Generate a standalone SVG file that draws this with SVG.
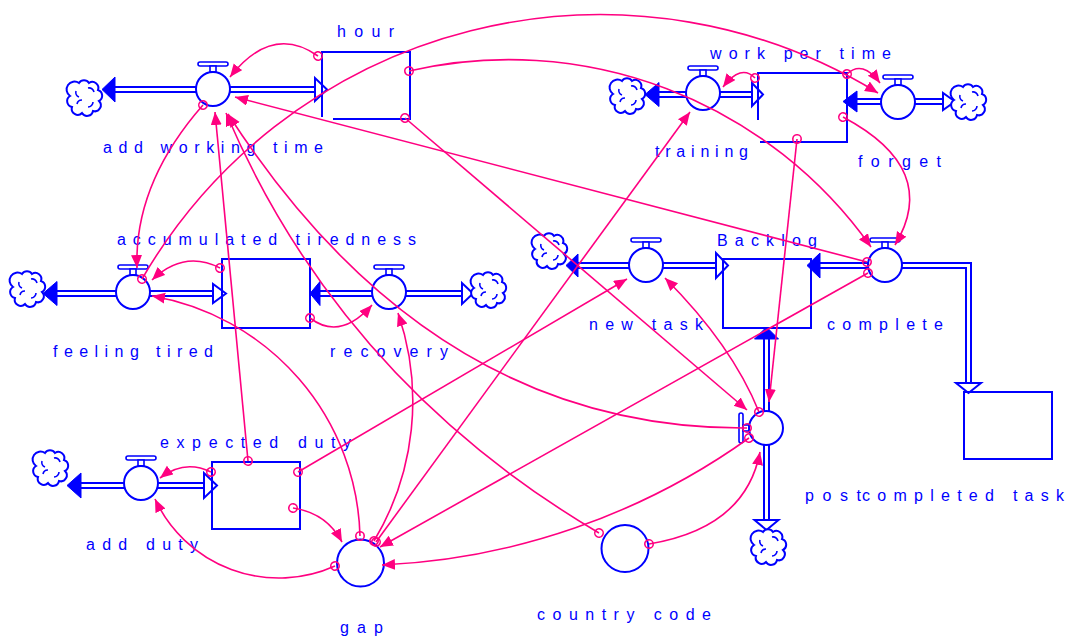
<svg xmlns="http://www.w3.org/2000/svg" xmlns:xlink="http://www.w3.org/1999/xlink" width="1071" height="640" viewBox="0 0 1071 640">
<style>
  .stock{fill:none;stroke:#0000FF;stroke-width:2}
  .lbl{font-family:"Liberation Sans",Arial,sans-serif;font-size:16px;fill:#0000FF}
  .pipeO{fill:none;stroke:#0000FF;stroke-width:7;stroke-linejoin:miter}
  .pipeI{fill:none;stroke:#FFFFFF;stroke-width:3;stroke-linejoin:miter}
  .fa{fill:#0000FF;stroke:#0000FF;stroke-width:1}
  .ha{fill:#FFFFFF;stroke:#0000FF;stroke-width:2}
  .aux{fill:#FFFFFF;stroke:#0000FF;stroke-width:2}
  .link{fill:none;stroke:#FF0080;stroke-width:1.6;marker-start:url(#orig);marker-end:url(#head)}
</style>
<defs>
  <marker id="head" markerUnits="userSpaceOnUse" markerWidth="14" markerHeight="12" refX="13" refY="5.5" orient="auto">
    <path d="M0,0 L13,5.5 L0,11 Z" fill="#FF0080"/>
  </marker>
  <marker id="orig" markerUnits="userSpaceOnUse" markerWidth="12" markerHeight="12" refX="6" refY="6" orient="auto">
    <circle cx="6" cy="6" r="4.2" fill="none" stroke="#FF0080" stroke-width="1.6"/>
  </marker>
  <g id="valve">
    <rect x="-15" y="-27" width="30" height="4" rx="2" fill="#FFFFFF" stroke="#0000FF" stroke-width="1.6"/>
    <rect x="-3" y="-23" width="6" height="6" fill="#FFFFFF" stroke="#0000FF" stroke-width="1.6"/>
    <circle r="17" fill="#FFFFFF" stroke="#0000FF" stroke-width="2"/>
  </g>
  <g id="cloud">
    <path d="M-6,-15 A6,6 0 0 1 4,-15 A6,6 0 0 1 13,-8 A6,6 0 0 1 14,3 A6,6 0 0 1 8,13 A6,6 0 0 1 -3,15 A6,6 0 0 1 -13,9 A6,6 0 0 1 -15,-2 A6,6 0 0 1 -6,-15 Z" fill="#FFFFFF" stroke="#0000FF" stroke-width="2"/>
    <path d="M-9,-7 A5,5 0 0 0 -6,-1 M3,-10 A5,5 0 0 1 9,-6 M8,4 A5,5 0 0 1 3,9 M-8,6 A5,5 0 0 1 -3,2" fill="none" stroke="#0000FF" stroke-width="1.6"/>
  </g>
</defs>
<rect width="1071" height="640" fill="#FFFFFF"/>

<!-- flow pipes -->
<g id="pipes">
  <path class="pipeO" d="M115,89.5 H315 M659,94.5 H752 M857,101.5 H943 M57,293.5 H213 M320,293.5 H462 M578,265.5 H716 M820,265.5 H968.5 V383 M766.5,339 V520 M81,485.5 H204"/>
  <path class="pipeI" d="M113,89.5 H317 M657,94.5 H754 M855,101.5 H945 M55,293.5 H215 M318,293.5 H464 M576,265.5 H718 M818,265.5 H968.5 V385 M766.5,337 V522 M79,485.5 H206"/>
  <polygon class="fa" points="102,89.5 115,77 115,102"/>
  <polygon class="fa" points="645,94.5 659,82.5 659,106.5"/>
  <polygon class="fa" points="843,101.5 857,91 857,112"/>
  <polygon class="fa" points="43,293.5 57,281.5 57,305.5"/>
  <polygon class="fa" points="310,293.5 320,281.5 320,305.5"/>
  <polygon class="fa" points="566,265.5 578,254 578,277"/>
  <polygon class="fa" points="807,265.5 820,253 820,278"/>
  <polygon class="fa" points="766.5,327 754.5,339 778.5,339"/>
  <polygon class="fa" points="67,485.5 81,473 81,498"/>
  <polygon class="ha" points="327,89.5 315,78 315,101"/>
  <polygon class="ha" points="763,94.5 752,83 752,106"/>
  <polygon class="ha" points="955,101.5 943,93 943,110"/>
  <polygon class="ha" points="226,293.5 213,284 213,303"/>
  <polygon class="ha" points="473,293.5 462,283 462,304"/>
  <polygon class="ha" points="728,265.5 716,253 716,278"/>
  <polygon class="ha" points="968.5,393 956,383 981,383"/>
  <polygon class="ha" points="766.5,530 754.5,520 778.5,520"/>
  <polygon class="ha" points="217,485.5 204,473 204,498"/>
</g>

<!-- sources and sinks -->
<g id="clouds">
  <use xlink:href="#cloud" href="#cloud" x="85" y="98"/>
  <use xlink:href="#cloud" href="#cloud" x="628" y="96"/>
  <use xlink:href="#cloud" href="#cloud" x="969" y="102"/>
  <use xlink:href="#cloud" href="#cloud" x="28" y="289"/>
  <use xlink:href="#cloud" href="#cloud" x="489" y="290"/>
  <use xlink:href="#cloud" href="#cloud" x="550" y="251"/>
  <use xlink:href="#cloud" href="#cloud" x="769" y="547"/>
  <use xlink:href="#cloud" href="#cloud" x="51" y="468"/>
</g>

<!-- stocks -->
<g id="hour">
  <path class="stock" d="M333,119 H410 V52 H322 V117"/>
  <text class="lbl" x="337" y="37" textLength="57" lengthAdjust="spacing">hour</text>
</g>
<g id="work-per-time">
  <path class="stock" d="M760,142 H847 V73 H758 V120"/>
  <text class="lbl" x="710" y="59" textLength="181" lengthAdjust="spacing">work per time</text>
</g>
<g id="accumulated-tiredness">
  <rect class="stock" x="222" y="259" width="88" height="69"/>
  <text class="lbl" x="117" y="245" textLength="299" lengthAdjust="spacing">accumulated tiredness</text>
</g>
<g id="backlog">
  <rect class="stock" x="723" y="259" width="88" height="69"/>
  <text class="lbl" x="717" y="246" textLength="100" lengthAdjust="spacing">Backlog</text>
</g>
<g id="expected-duty">
  <rect class="stock" x="212" y="462" width="88" height="67"/>
  <text class="lbl" x="160" y="448" textLength="191" lengthAdjust="spacing">expected duty</text>
</g>
<g id="completed-task">
  <rect class="stock" x="964" y="392" width="88" height="67"/>
  <text class="lbl" x="862" y="501" textLength="202" lengthAdjust="spacing">completed task</text>
</g>

<!-- rates -->
<g id="add-working-time">
  <use xlink:href="#valve" href="#valve" x="213" y="89"/>
  <text class="lbl" x="103" y="153" textLength="220" lengthAdjust="spacing">add working time</text>
</g>
<g id="training">
  <use xlink:href="#valve" href="#valve" x="703" y="93"/>
  <text class="lbl" x="655" y="157" textLength="93" lengthAdjust="spacing">training</text>
</g>
<g id="forget">
  <use xlink:href="#valve" href="#valve" x="898" y="102"/>
  <text class="lbl" x="858" y="167" textLength="83" lengthAdjust="spacing">forget</text>
</g>
<g id="feeling-tired">
  <use xlink:href="#valve" href="#valve" x="133" y="292"/>
  <text class="lbl" x="53" y="357" textLength="160" lengthAdjust="spacing">feeling tired</text>
</g>
<g id="recovery">
  <use xlink:href="#valve" href="#valve" x="389" y="292"/>
  <text class="lbl" x="330" y="357" textLength="118" lengthAdjust="spacing">recovery</text>
</g>
<g id="new-task">
  <use xlink:href="#valve" href="#valve" x="646" y="265"/>
  <text class="lbl" x="589" y="330" textLength="114" lengthAdjust="spacing">new task</text>
</g>
<g id="complete">
  <use xlink:href="#valve" href="#valve" x="885" y="265"/>
  <text class="lbl" x="827" y="330" textLength="116" lengthAdjust="spacing">complete</text>
</g>
<g id="post">
  <use xlink:href="#valve" href="#valve" transform="translate(766,428) rotate(-90)"/>
  <text class="lbl" x="805" y="501" textLength="56" lengthAdjust="spacing">post</text>
</g>
<g id="add-duty">
  <use xlink:href="#valve" href="#valve" x="141" y="483"/>
  <text class="lbl" x="86" y="550" textLength="112" lengthAdjust="spacing">add duty</text>
</g>

<!-- auxiliaries -->
<g id="gap">
  <circle class="aux" cx="360.5" cy="563" r="23.5"/>
  <text class="lbl" x="340" y="633" textLength="43" lengthAdjust="spacing">gap</text>
</g>
<g id="country-code">
  <circle class="aux" cx="625" cy="548.5" r="23.5"/>
  <text class="lbl" x="537" y="620" textLength="174" lengthAdjust="spacing">country code</text>
</g>

<!-- information links -->
<g id="links">
  <path class="link" d="M318,56 Q272,23.5 230,77"/>
  <path class="link" d="M409,71 A443.6,443.6 0 0 1 871,247"/>
  <path class="link" d="M405,118 L747,410"/>
  <path class="link" d="M203,105 Q134,183.5 137,268"/>
  <path class="link" d="M142,279 A530,530 0 0 1 878,93"/>
  <path class="link" d="M867,262 L235,97"/>
  <path class="link" d="M755,78 Q741,63.5 723,87"/>
  <path class="link" d="M847,74 Q862.5,59.5 880,83"/>
  <path class="link" d="M797,139 L769,402"/>
  <path class="link" d="M843,117 Q941,169 895,245"/>
  <path class="link" d="M220,268 Q184,249.5 152,280"/>
  <path class="link" d="M310,318 Q340,341 372,305"/>
  <path class="link" d="M211,472 Q184.5,459 160,478"/>
  <path class="link" d="M248,461 L215,112"/>
  <path class="link" d="M298,472 L627,279"/>
  <path class="link" d="M293,508 Q326.5,513 342,542"/>
  <path class="link" d="M335,566 A136.6,136.6 0 0 1 155,499"/>
  <path class="link" d="M360,536 A250.3,250.3 0 0 0 152,296"/>
  <path class="link" d="M374,541 A271,271 0 0 0 398,313"/>
  <path class="link" d="M376,542 L690,112"/>
  <path class="link" d="M868,273 L380,547"/>
  <path class="link" d="M749,438 A684,684 0 0 1 382,565"/>
  <path class="link" d="M759,412 Q732,345 665,278"/>
  <path class="link" d="M649,544 Q745.5,528 760,452"/>
  <path class="link" d="M747,428 Q432,430 228,114"/>
  <path class="link" d="M599,533 Q340,380 226,113"/>
</g>
</svg>
